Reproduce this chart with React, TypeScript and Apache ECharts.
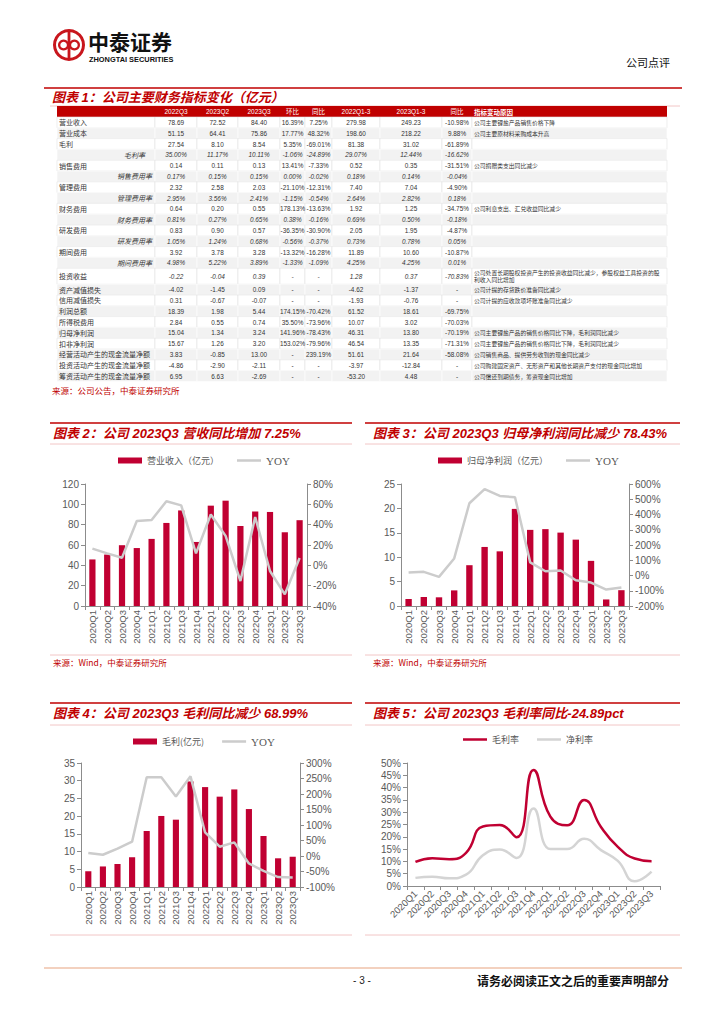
import React, { useEffect, useRef } from "react";
import * as echarts from "echarts";

// ---------------- data ----------------
const quarters = [
  "2020Q1", "2020Q2", "2020Q3", "2020Q4",
  "2021Q1", "2021Q2", "2021Q3", "2021Q4",
  "2022Q1", "2022Q2", "2022Q3", "2022Q4",
  "2023Q1", "2023Q2", "2023Q3",
];
const revenue = [45.8, 50.6, 59.8, 57.0, 66.0, 81.7, 94.0, 63.0, 98.7, 103.6, 78.69, 93.0, 92.5, 72.52, 84.4];
const revenueYoy = [16.4, 11.8, 7.5, 43.6, 44.6, 63.0, 59.0, 11.8, 50.0, 29.0, -15.4, 47.5, -5.6, -28.5, 7.25];
const netProfit = [1.44, 1.85, 1.78, 3.2, 8.36, 12.1, 11.2, 19.9, 15.6, 15.75, 15.04, 13.6, 9.25, 1.34, 3.24];
const netProfitYoy = [20, 24, -9, 112, 474, 566, 522, 513, 86, 28, 33, -31, -46, -92, -78.43];
const grossProfit = [4.45, 5.8, 6.5, 8.4, 15.8, 20.05, 19.0, 29.8, 28.2, 25.5, 27.54, 22.0, 14.4, 8.1, 8.54];
const grossProfitYoy = [10, 4, 24, 46, 254, 254, 192, 257, 76, 30, 44, -24, -48, -68, -68.99];
const grossMargin = [9.8, 11.3, 10.9, 13.5, 24.2, 24.8, 19.8, 47.2, 28.2, 24.7, 35.0, 24.0, 15.9, 11.17, 10.11];
const netMargin = [3.3, 3.8, 3.1, 4.6, 12.5, 14.8, 11.4, 31.5, 15.0, 15.0, 19.2, 14.6, 10.2, 1.9, 5.8];

const tableHeader = ["", "2022Q3", "2023Q2", "2023Q3", "环比", "同比", "2022Q1-3", "2023Q1-3", "同比", "指标变动原因"];
const rowLabels = [
  "营业收入", "营业成本", "毛利", "毛利率", "销售费用", "销售费用率", "管理费用", "管理费用率",
  "财务费用", "财务费用率", "研发费用", "研发费用率", "期间费用", "期间费用率", "投资收益",
  "资产减值损失", "信用减值损失", "利润总额", "所得税费用", "归母净利润", "扣非净利润",
  "经营活动产生的现金流量净额", "投资活动产生的现金流量净额", "筹资活动产生的现金流量净额",
];
const rowValues = [
  ["78.69", "72.52", "84.40", "16.39%", "7.25%", "279.98", "249.23", "-10.98%"],
  ["51.15", "64.41", "75.86", "17.77%", "48.32%", "198.60", "218.22", "9.88%"],
  ["27.54", "8.10", "8.54", "5.35%", "-69.01%", "81.38", "31.02", "-61.89%"],
  ["35.00%", "11.17%", "10.11%", "-1.06%", "-24.89%", "29.07%", "12.44%", "-16.62%"],
  ["0.14", "0.11", "0.13", "13.41%", "-7.33%", "0.52", "0.35", "-31.51%"],
  ["0.17%", "0.15%", "0.15%", "0.00%", "-0.02%", "0.18%", "0.14%", "-0.04%"],
  ["2.32", "2.58", "2.03", "-21.10%", "-12.31%", "7.40", "7.04", "-4.90%"],
  ["2.95%", "3.56%", "2.41%", "-1.15%", "-0.54%", "2.64%", "2.82%", "0.18%"],
  ["0.64", "0.20", "0.55", "178.13%", "-13.63%", "1.92", "1.25", "-34.75%"],
  ["0.81%", "0.27%", "0.65%", "0.38%", "-0.16%", "0.69%", "0.50%", "-0.18%"],
  ["0.83", "0.90", "0.57", "-36.35%", "-30.90%", "2.05", "1.95", "-4.87%"],
  ["1.05%", "1.24%", "0.68%", "-0.56%", "-0.37%", "0.73%", "0.78%", "0.05%"],
  ["3.92", "3.78", "3.28", "-13.32%", "-16.28%", "11.89", "10.60", "-10.87%"],
  ["4.98%", "5.22%", "3.89%", "-1.33%", "-1.09%", "4.25%", "4.25%", "0.01%"],
  ["-0.22", "-0.04", "0.39", "-", "-", "1.28", "0.37", "-70.83%"],
  ["-4.02", "-1.45", "0.09", "-", "-", "-4.62", "-1.37", "-"],
  ["0.31", "-0.67", "-0.07", "-", "-", "-1.93", "-0.76", "-"],
  ["18.39", "1.98", "5.44", "174.15%", "-70.42%", "61.52", "18.61", "-69.75%"],
  ["2.84", "0.55", "0.74", "35.50%", "-73.96%", "10.07", "3.02", "-70.03%"],
  ["15.04", "1.34", "3.24", "141.96%", "-78.43%", "46.31", "13.80", "-70.19%"],
  ["15.67", "1.26", "3.20", "153.02%", "-79.96%", "46.54", "13.35", "-71.31%"],
  ["3.83", "-0.85", "13.00", "-", "239.19%", "51.61", "21.64", "-58.08%"],
  ["-4.86", "-2.90", "-2.11", "-", "-", "-3.97", "-12.84", "-"],
  ["6.95", "6.63", "-2.69", "-", "-", "-53.20", "4.48", "-"],
];
const rowReasons = [
  "公司主要锂盐产品销售价格下降",
  "公司主要原材料采购成本升高",
  "", "",
  "公司捐赠类支出同比减少",
  "", "", "",
  "公司利息支出、汇兑收益同比减少",
  "", "", "", "", "",
  "公司处置长期股权投资产生的投资收益同比减少，参股权益工具投资的股\n利收入同比增加",
  "公司计提的存货跌价准备同比减少",
  "公司计提的应收款项坏账准备同比减少",
  "", "",
  "公司主要锂盐产品的销售价格同比下降，毛利润同比减少",
  "公司主要锂盐产品的销售价格同比下降，毛利润同比减少",
  "公司销售商品、提供劳务收到的现金同比减少",
  "公司购建固定资产、无形资产和其他长期资产支付的现金同比增加",
  "公司偿还到期债务，筹资现金同比增加",
];
const rateRows = [3, 5, 7, 9, 11, 13];
const tallRow = 14;

// ---------------- styles ----------------
const CJK = '"Noto Sans CJK SC", sans-serif';
const SANS = '"Liberation Sans", Arial, "Noto Sans CJK SC", sans-serif';
const RED = "#c00000";
const BAR = "#C00032";
const GREY_LINE = "#cccccc";
const PINK = "#f2c6c6";
const AXIS = "#8c8c8c";
const LABEL = "#595959";
// thin horizontal bar in a 24x6 box (tiny corner dots keep the box size)
const LINE_ICON = "path://M0,0h0.05v0.05h-0.05z M0,1.75h24v2.5h-24z M23.95,5.95h0.05v0.05h-0.05z";

function txt(x: number, y: number, text: string, o: any = {}) {
  return {
    type: "text",
    x,
    y,
    silent: true,
    style: {
      text,
      fill: o.fill || "#333",
      fontSize: o.fontSize || 8,
      fontFamily: o.fontFamily || CJK,
      fontWeight: o.fontWeight || "normal",
      fontStyle: o.fontStyle || "normal",
      align: o.align || "left",
      verticalAlign: "middle",
      lineHeight: o.lineHeight,
    },
  };
}
function hline(x1: number, x2: number, y: number, stroke: string, lineWidth = 1) {
  return { type: "line", silent: true, shape: { x1, y1: y, x2, y2: y }, style: { stroke, lineWidth } };
}
function rect(x: number, y: number, w: number, h: number, fill: string, stroke?: string, lw = 0.5) {
  return {
    type: "rect",
    silent: true,
    shape: { x, y, width: w, height: h },
    style: stroke ? { fill, stroke, lineWidth: lw } : { fill },
  };
}

function buildGraphics() {
  const g: any[] = [];
  // header logo
  g.push({ type: "ring", silent: true, shape: { cx: 69, cy: 45, r: 16, r0: 13 }, style: { fill: "#c8161d" } });
  g.push(rect(67.6, 31, 2.8, 28, "#c8161d"));
  g.push({ type: "ring", silent: true, shape: { cx: 63.6, cy: 45, r: 5.6, r0: 3.3 }, style: { fill: "#c8161d" } });
  g.push({ type: "ring", silent: true, shape: { cx: 74.4, cy: 45, r: 5.6, r0: 3.3 }, style: { fill: "#c8161d" } });
  g.push(txt(88, 41, "中泰证券", { fontSize: 21, fontWeight: "bold", fill: "#111" }));
  g.push(txt(89, 59, "ZHONGTAI SECURITIES", { fontSize: 7.4, fontWeight: "bold", fontFamily: SANS, fill: "#111" }));
  g.push(txt(626, 62, "公司点评", { fontSize: 11, fill: "#111" }));
  g.push(hline(44, 682, 88, RED, 1.5));

  // table title
  g.push(txt(52, 97, "图表 1：公司主要财务指标变化（亿元）", { fontSize: 13, fontWeight: "bold", fontStyle: "italic", fill: RED, fontFamily: SANS }));
  g.push(hline(50, 680, 106, PINK, 1));

  // table
  const colX = [57, 155, 197, 238, 280, 305, 332, 380, 442, 472, 667];
  const headTop = 106;
  const headH = 11;
  g.push(rect(colX[0], headTop, colX[10] - colX[0], headH, RED));
  for (let c = 1; c <= 8; c++) {
    g.push(txt((colX[c] + colX[c + 1]) / 2, headTop + headH / 2, tableHeader[c], { fontSize: 6.5, fill: "#fff", align: "center", fontFamily: SANS }));
  }
  g.push(txt(474, headTop + headH / 2, tableHeader[9], { fontSize: 6.5, fill: "#fff", fontWeight: "bold" }));

  let y = headTop + headH;
  for (let i = 0; i < rowLabels.length; i++) {
    const h = i === tallRow ? 16 : 10.8;
    const grey = i % 2 === 1;
    const bg = grey ? "#f2f2f2" : "#ffffff";
    for (let c = 0; c < 10; c++) {
      g.push(rect(colX[c], y, colX[c + 1] - colX[c], h, bg, grey ? "#ffffff" : "#e2e2e2", 0.6));
    }
    const cy = y + h / 2;
    const isRate = rateRows.indexOf(i) >= 0;
    if (isRate) {
      g.push(txt(134.5, cy, rowLabels[i], { fontSize: 7, fontStyle: "italic", align: "center", fill: "#333" }));
    } else {
      g.push(txt(59, cy, rowLabels[i], { fontSize: 7, fill: "#333" }));
    }
    const italic = isRate || i === tallRow;
    for (let c = 0; c < 8; c++) {
      g.push(txt((colX[c + 1] + colX[c + 2]) / 2, cy, rowValues[i][c], {
        fontSize: 6.4,
        fontFamily: SANS,
        align: "center",
        fontStyle: italic ? "italic" : "normal",
        fill: "#333",
      }));
    }
    if (rowReasons[i]) {
      g.push(txt(474, cy, rowReasons[i], { fontSize: 5.8, fill: "#333", lineHeight: 7 }));
    }
    y += h;
  }
  g.push(txt(52, 390, "来源：公司公告，中泰证券研究所", { fontSize: 8.5, fill: RED }));

  // chart section titles
  const titleFont = { fontSize: 13, fontWeight: "bold", fontStyle: "italic", fill: RED, fontFamily: SANS };
  g.push(hline(50, 352, 423, RED, 1.5));
  g.push(hline(365, 680, 423, RED, 1.5));
  g.push(txt(53, 433, "图表 2：公司 2023Q3 营收同比增加 7.25%", titleFont));
  g.push(txt(373, 433, "图表 3：公司 2023Q3 归母净利润同比减少 78.43%", titleFont));
  g.push(hline(50, 352, 444, PINK, 1));
  g.push(hline(365, 680, 444, PINK, 1));
  g.push(hline(50, 352, 655, PINK, 1));
  g.push(hline(365, 680, 655, PINK, 1));
  g.push(txt(53, 662, "来源：Wind，中泰证券研究所", { fontSize: 8.5, fill: RED }));
  g.push(txt(373, 662, "来源：Wind，中泰证券研究所", { fontSize: 8.5, fill: RED }));

  g.push(hline(50, 352, 703, RED, 1.5));
  g.push(hline(365, 680, 703, RED, 1.5));
  g.push(txt(53, 713, "图表 4：公司 2023Q3 毛利同比减少 68.99%", titleFont));
  g.push(txt(373, 713, "图表 5：公司 2023Q3 毛利率同比-24.89pct", titleFont));
  g.push(hline(50, 352, 725, PINK, 1));
  g.push(hline(365, 680, 725, PINK, 1));
  g.push(hline(50, 352, 935, PINK, 1));
  g.push(hline(365, 680, 935, PINK, 1));

  // footer
  g.push(hline(44, 682, 968, "#efc2aa", 1.5));
  g.push(txt(362, 980, "- 3 -", { fontSize: 10, fontFamily: SANS, align: "center", fill: "#222" }));
  g.push(txt(477, 980, "请务必阅读正文之后的重要声明部分", { fontSize: 12, fontWeight: "bold", fill: "#111" }));
  return g;
}

const axisLine = { show: true, lineStyle: { color: AXIS, width: 1 } };
const axisTick = { show: true, length: 4, lineStyle: { color: AXIS } };

function catAxis(gridIndex: number, rotate: number) {
  return {
    type: "category",
    gridIndex,
    data: quarters,
    boundaryGap: true,
    axisLine,
    axisTick,
    axisLabel: { interval: 0, rotate, margin: rotate === 90 ? 4 : 6, color: LABEL, fontSize: 9.5, fontFamily: SANS },
    splitLine: { show: false },
  };
}
function valAxis(gridIndex: number, min: number, max: number, interval: number, position: string, pct: boolean) {
  return {
    type: "value",
    gridIndex,
    min,
    max,
    interval,
    position,
    axisLine,
    axisTick,
    axisLabel: { color: LABEL, fontSize: 10, fontFamily: SANS, margin: 6, formatter: pct ? "{value}%" : "{value}" },
    splitLine: { show: false },
  };
}
function legendCfg(left: number, top: number, data: any[]) {
  return {
    left,
    top,
    padding: 0,
    itemWidth: 24,
    itemHeight: 6,
    itemGap: 18,
    data,
    formatter: (n: string) => (n.indexOf("YOY") === 0 ? "{y|YOY}" : n),
    textStyle: {
      color: LABEL,
      fontSize: 9,
      fontFamily: CJK,
      rich: { y: { fontFamily: '"Liberation Serif", serif', fontSize: 11, color: LABEL } },
    },
  };
}
function barSeries(name: string, xi: number, yi: number, data: number[]) {
  return { name, type: "bar", xAxisIndex: xi, yAxisIndex: yi, data, barWidth: "42%", itemStyle: { color: BAR } };
}
function lineSeries(name: string, xi: number, yi: number, data: number[], color: string, smooth: any = false) {
  return {
    name,
    type: "line",
    xAxisIndex: xi,
    yAxisIndex: yi,
    data,
    symbol: "none",
    smooth,
    lineStyle: { color, width: 2.5 },
    itemStyle: { color },
  };
}

function buildOption() {
  return {
    animation: false,
    backgroundColor: "#ffffff",
    textStyle: { fontFamily: SANS },
    graphic: { elements: buildGraphics() },
    grid: [
      { left: 85, top: 484, width: 222, height: 122 },
      { left: 401, top: 484, width: 228, height: 122 },
      { left: 81, top: 763, width: 219, height: 124 },
      { left: 407, top: 763, width: 253, height: 123 },
    ],
    xAxis: [catAxis(0, 90), catAxis(1, 90), catAxis(2, 90), catAxis(3, 45)],
    yAxis: [
      valAxis(0, 0, 120, 20, "left", false),
      valAxis(0, -40, 80, 20, "right", true),
      valAxis(1, 0, 25, 5, "left", false),
      valAxis(1, -200, 600, 100, "right", true),
      valAxis(2, 0, 35, 5, "left", false),
      valAxis(2, -100, 300, 50, "right", true),
      valAxis(3, 0, 50, 5, "left", true),
    ],
    legend: [
      legendCfg(118, 455, [{ name: "营业收入（亿元）", icon: "rect" }, { name: "YOY2", icon: LINE_ICON }]),
      legendCfg(438, 455, [{ name: "归母净利润（亿元）", icon: "rect" }, { name: "YOY3", icon: LINE_ICON }]),
      legendCfg(133, 736, [{ name: "毛利(亿元)", icon: "rect" }, { name: "YOY4", icon: LINE_ICON }]),
      legendCfg(463, 735, [{ name: "毛利率", icon: LINE_ICON }, { name: "净利率", icon: LINE_ICON }]),
    ],
    series: [
      barSeries("营业收入（亿元）", 0, 0, revenue),
      lineSeries("YOY2", 0, 1, revenueYoy, GREY_LINE),
      barSeries("归母净利润（亿元）", 1, 2, netProfit),
      lineSeries("YOY3", 1, 3, netProfitYoy, GREY_LINE),
      barSeries("毛利(亿元)", 2, 4, grossProfit),
      lineSeries("YOY4", 2, 5, grossProfitYoy, GREY_LINE),
      lineSeries("毛利率", 3, 6, grossMargin, BAR, 0.5),
      lineSeries("净利率", 3, 6, netMargin, "#d4d4d4", 0.5),
    ],
  };
}

export default function App() {
  const ref = useRef<HTMLDivElement>(null);
  useEffect(() => {
    if (!ref.current) return;
    const chart = echarts.init(ref.current, undefined, { renderer: "svg" });
    chart.setOption(buildOption() as any);
    return () => chart.dispose();
  }, []);
  return (
    <div
      ref={ref}
      style={{ position: "absolute", left: 0, top: 0, width: 724, height: 1024, background: "#fff" }}
    />
  );
}
